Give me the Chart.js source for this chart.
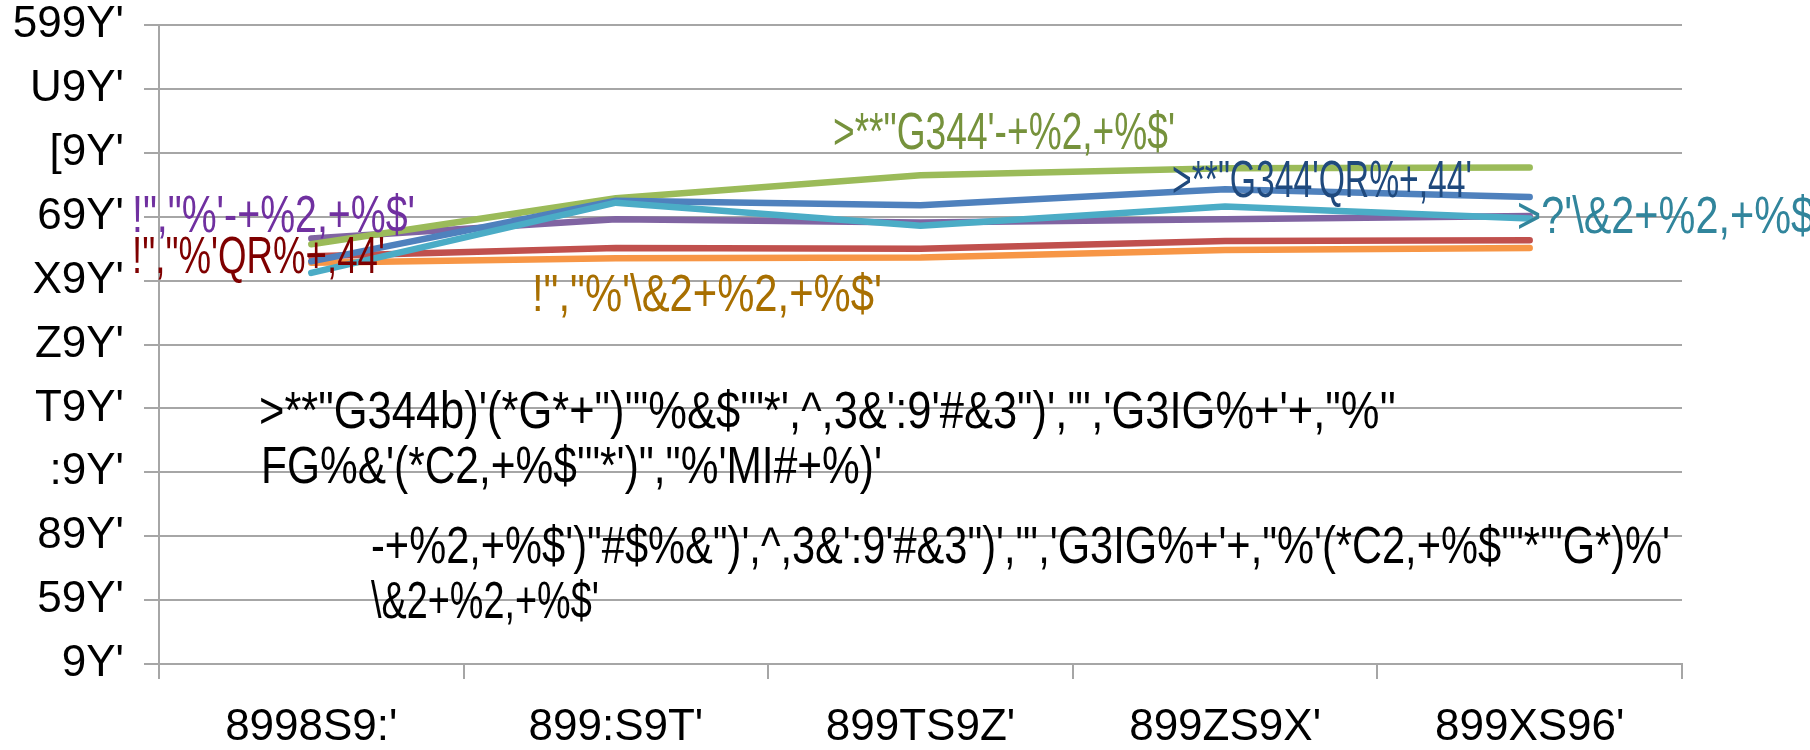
<!DOCTYPE html>
<html>
<head>
<meta charset="utf-8">
<title>chart</title>
<script src="https://cdn.jsdelivr.net/npm/chart.js@4/dist/chart.umd.min.js"></script>
<style>
  body { margin: 0; background: #fff; }
  canvas { display: block; }
</style>
</head>
<body>
<canvas id="chart" width="1810" height="750"></canvas>
<script>
// Category labels and y tick labels (as they appear in the picture)
const years = ["8998S9:'", "899:S9T'", "899TS9Z'", "899ZS9X'", "899XS96'"];
const yTicks = ["9Y'", "59Y'", "89Y'", ":9Y'", "T9Y'", "Z9Y'", "X9Y'", "69Y'", "[9Y'", "U9Y'", "599Y'"];

// Series values (percent)
const cyanVals   = [61.2, 72.2, 68.6, 71.6, 69.7];
const blueVals   = [63.0, 72.5, 71.8, 74.3, 73.1];
const greenVals  = [65.7, 72.9, 76.5, 77.6, 77.7];
const purpleVals = [66.6, 69.6, 69.1, 69.6, 70.1];
const redVals    = [63.8, 65.1, 65.0, 66.2, 66.3];
const orangeVals = [62.8, 63.5, 63.6, 64.8, 65.1];

const grey = '#a6a6a6';
const fontFam = '"Liberation Sans", Arial, sans-serif';

// free floating text boxes: left x, baseline y, ink width
const notes = [
  { text: '!","%\'-+%2,+%$\'', color: '#7030a0', x: 132, y: 232, w: 283 },
  { text: '!","%\'QR%+,44\'', color: '#7f0000', x: 132, y: 273, w: 253 },
  { text: '!","%\'\\&2+%2,+%$\'', color: '#a86f00', x: 532, y: 311, w: 350 },
  { text: '>**"G344\'-+%2,+%$\'', color: '#76923c', x: 833, y: 149, w: 342 },
  { text: '>**"G344\'QR%+,44\'', color: '#1f497d', x: 1172, y: 197, w: 300 },
  { text: '>?\'\\&2+%2,+%$\'', color: '#31859c', x: 1517, y: 233, w: 305 },
  { text: '>**"G344b)\'(*G*+")\'"%&$\'"*\',^,3&\':9\'#&3")\',"\',\'G3IG%+\'+,"%\'\'', color: '#000', x: 259, y: 428, w: 1137 },
  { text: 'FG%&\'(*C2,+%$\'"*\')","%\'MI#+%)\'', color: '#000', x: 261, y: 483, w: 621 },
  { text: '-+%2,+%$\')"#$%&")\',^,3&\':9\'#&3")\',"\',\'G3IG%+\'+,"%\'(*C2,+%$\'"*\'"G*)%\'', color: '#000', x: 371, y: 563, w: 1299 },
  { text: '\\&2+%2,+%$\'', color: '#000', x: 371, y: 618, w: 228 }
];

const notesPlugin = {
  id: 'notes',
  afterDatasetsDraw: (chart) => {
    const ctx = chart.ctx;
    ctx.save();
    ctx.font = '51px ' + fontFam;
    ctx.textBaseline = 'alphabetic';
    ctx.textAlign = 'left';
    notes.forEach(n => {
      const m = ctx.measureText(n.text).width;
      ctx.save();
      ctx.translate(n.x, n.y);
      ctx.scale(n.w / m, 1);
      ctx.fillStyle = n.color;
      ctx.fillText(n.text, 0, 0);
      ctx.restore();
    });
    ctx.restore();
  }
};

const line = (label, color, data) => ({
  label: label,
  data: data,
  borderColor: color,
  backgroundColor: color,
  borderWidth: 6.5,
  pointRadius: 0,
  tension: 0,
  borderCapStyle: 'round',
  borderJoinStyle: 'round'
});

const ctx = document.getElementById('chart').getContext('2d');
const chart = new Chart(ctx, {
  type: 'line',
  data: {
    labels: years,
    // first dataset is drawn on top
    datasets: [
      line('>?\'\\&2+%2,+%$', '#4bacc6', cyanVals),
      line('>**"G344\'QR%+,44\'', '#4f81bd', blueVals),
      line('>**"G344\'-+%2,+%$\'', '#9bbb59', greenVals),
      line('!","%\'-+%2,+%$\'', '#8064a2', purpleVals),
      line('!","%\'QR%+,44\'', '#c0504d', redVals),
      line('!","%\'\\&2+%2,+%$\'', '#f79646', orangeVals)
    ]
  },
  options: {
    responsive: false,
    animation: false,
    layout: { padding: { top: 25, right: 128, left: 0, bottom: 0 } },
    plugins: {
      legend: { display: false },
      tooltip: { enabled: false }
    },
    scales: {
      x: {
        offset: true,
        grid: { display: true, offset: true, drawOnChartArea: false, drawTicks: true, tickLength: 15, color: grey, lineWidth: 2 },
        border: { display: true, color: grey, width: 2 },
        ticks: { color: '#000', padding: 22, maxRotation: 0, font: { family: fontFam, size: 44 } },
        afterFit: (s) => { s.height = 86; }
      },
      y: {
        min: 0,
        max: 100,
        grid: { color: grey, lineWidth: 2, drawTicks: true, tickLength: 15 },
        border: { display: true, color: grey, width: 2 },
        ticks: {
          stepSize: 10,
          color: '#000',
          padding: 20,
          font: { family: fontFam, size: 44, lineHeight: 1 },
          callback: (v) => yTicks[Math.round(v / 10)]
        },
        afterFit: (s) => {
          s.width = 159;
          // the top label may stick out above the plot
          s.paddingTop = 0;
          s.paddingBottom = 0;
        }
      }
    }
  },
  plugins: [notesPlugin]
});
</script>
</body>
</html>
